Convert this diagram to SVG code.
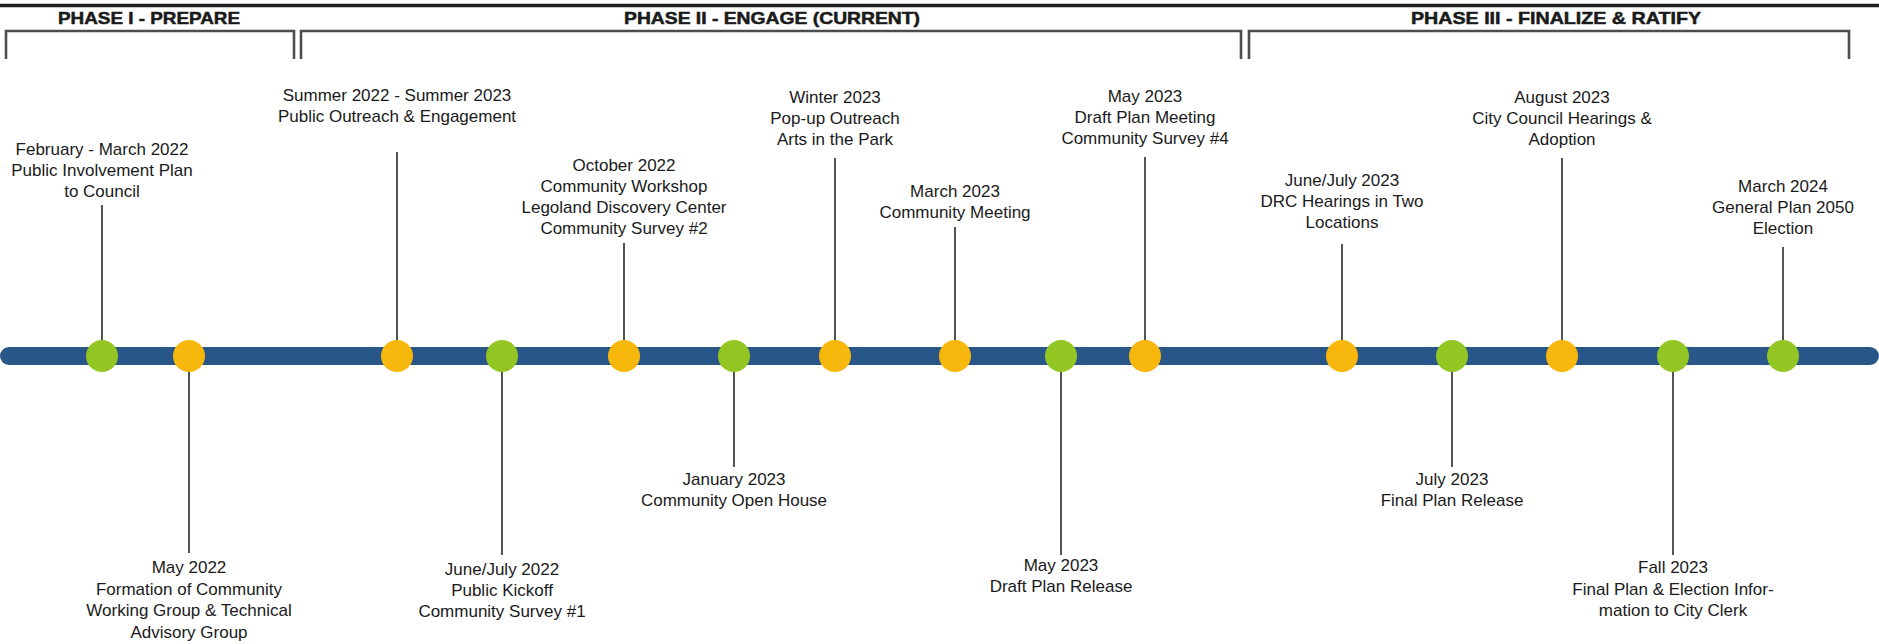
<svg xmlns="http://www.w3.org/2000/svg" width="1879" height="644" viewBox="0 0 1879 644">
<style>
.lbl{font-family:"Liberation Sans",Arial,sans-serif;font-size:17px;fill:#1a1a1a;text-anchor:middle}
.ph{font-family:"Liberation Sans",Arial,sans-serif;font-size:16.5px;font-weight:bold;fill:#1a1a1a;stroke:#1a1a1a;stroke-width:0.5}
.br{fill:none;stroke:#4d4d4d;stroke-width:2.6}
.stem{stroke:#2a2a2a;stroke-width:1.6}
.g{fill:#94c623}
.o{fill:#f8b70c}
</style>
<rect width="1879" height="644" fill="#ffffff"/>
<line x1="0" y1="5.5" x2="1879" y2="5.5" stroke="#1f1f1f" stroke-width="3.5"/>
<g id="phase1">
<text class="ph" x="58" y="24" textLength="182" lengthAdjust="spacingAndGlyphs">PHASE I - PREPARE</text>
<path class="br" d="M6,59 V31 H294 V59"/>
</g>
<g id="phase2">
<text class="ph" x="624" y="24" textLength="296" lengthAdjust="spacingAndGlyphs">PHASE II - ENGAGE (CURRENT)</text>
<path class="br" d="M301,59 V31 H1241 V59"/>
</g>
<g id="phase3">
<text class="ph" x="1411" y="24" textLength="290" lengthAdjust="spacingAndGlyphs">PHASE III - FINALIZE &amp; RATIFY</text>
<path class="br" d="M1249,59 V31 H1849 V59"/>
</g>
<g id="connectors">
<line class="stem" x1="102" y1="205" x2="102" y2="356"/>
<line class="stem" x1="189" y1="356" x2="189" y2="553"/>
<line class="stem" x1="397" y1="152" x2="397" y2="356"/>
<line class="stem" x1="502" y1="356" x2="502" y2="555"/>
<line class="stem" x1="624" y1="243" x2="624" y2="356"/>
<line class="stem" x1="734" y1="356" x2="734" y2="467"/>
<line class="stem" x1="835" y1="158" x2="835" y2="356"/>
<line class="stem" x1="955" y1="227" x2="955" y2="356"/>
<line class="stem" x1="1061" y1="356" x2="1061" y2="555"/>
<line class="stem" x1="1145" y1="157" x2="1145" y2="356"/>
<line class="stem" x1="1342" y1="244" x2="1342" y2="356"/>
<line class="stem" x1="1452" y1="356" x2="1452" y2="467"/>
<line class="stem" x1="1562" y1="158" x2="1562" y2="356"/>
<line class="stem" x1="1673" y1="356" x2="1673" y2="555"/>
<line class="stem" x1="1783" y1="247" x2="1783" y2="356"/>
</g>
<g id="timeline">
<line x1="9" y1="356" x2="1870" y2="356" stroke="#295689" stroke-width="18" stroke-linecap="round"/>
</g>
<g id="n1"><circle class="g" cx="102" cy="356" r="16"/>
<text class="lbl" x="102" y="155">February - March 2022</text>
<text class="lbl" x="102" y="176">Public Involvement Plan</text>
<text class="lbl" x="102" y="197">to Council</text></g>
<g id="n2"><circle class="o" cx="189" cy="356" r="16"/>
<text class="lbl" x="189" y="573">May 2022</text>
<text class="lbl" x="189" y="594.5">Formation of Community</text>
<text class="lbl" x="189" y="616">Working Group &amp; Technical</text>
<text class="lbl" x="189" y="637.5">Advisory Group</text></g>
<g id="n3"><circle class="o" cx="397" cy="356" r="16"/>
<text class="lbl" x="397" y="101">Summer 2022 - Summer 2023</text>
<text class="lbl" x="397" y="122">Public Outreach &amp; Engagement</text></g>
<g id="n4"><circle class="g" cx="502" cy="356" r="16"/>
<text class="lbl" x="502" y="575">June/July 2022</text>
<text class="lbl" x="502" y="596">Public Kickoff</text>
<text class="lbl" x="502" y="617">Community Survey #1</text></g>
<g id="n5"><circle class="o" cx="624" cy="356" r="16"/>
<text class="lbl" x="624" y="171">October 2022</text>
<text class="lbl" x="624" y="192">Community Workshop</text>
<text class="lbl" x="624" y="213">Legoland Discovery Center</text>
<text class="lbl" x="624" y="234">Community Survey #2</text></g>
<g id="n6"><circle class="g" cx="734" cy="356" r="16"/>
<text class="lbl" x="734" y="485">January 2023</text>
<text class="lbl" x="734" y="506">Community Open House</text></g>
<g id="n7"><circle class="o" cx="835" cy="356" r="16"/>
<text class="lbl" x="835" y="103">Winter 2023</text>
<text class="lbl" x="835" y="124">Pop-up Outreach</text>
<text class="lbl" x="835" y="145">Arts in the Park</text></g>
<g id="n8"><circle class="o" cx="955" cy="356" r="16"/>
<text class="lbl" x="955" y="197">March 2023</text>
<text class="lbl" x="955" y="218">Community Meeting</text></g>
<g id="n9"><circle class="g" cx="1061" cy="356" r="16"/>
<text class="lbl" x="1061" y="571">May 2023</text>
<text class="lbl" x="1061" y="592">Draft Plan Release</text></g>
<g id="n10"><circle class="o" cx="1145" cy="356" r="16"/>
<text class="lbl" x="1145" y="102">May 2023</text>
<text class="lbl" x="1145" y="123">Draft Plan Meeting</text>
<text class="lbl" x="1145" y="144">Community Survey #4</text></g>
<g id="n11"><circle class="o" cx="1342" cy="356" r="16"/>
<text class="lbl" x="1342" y="186">June/July 2023</text>
<text class="lbl" x="1342" y="207">DRC Hearings in Two</text>
<text class="lbl" x="1342" y="228">Locations</text></g>
<g id="n12"><circle class="g" cx="1452" cy="356" r="16"/>
<text class="lbl" x="1452" y="485">July 2023</text>
<text class="lbl" x="1452" y="506">Final Plan Release</text></g>
<g id="n13"><circle class="o" cx="1562" cy="356" r="16"/>
<text class="lbl" x="1562" y="103">August 2023</text>
<text class="lbl" x="1562" y="124">City Council Hearings &amp;</text>
<text class="lbl" x="1562" y="145">Adoption</text></g>
<g id="n14"><circle class="g" cx="1673" cy="356" r="16"/>
<text class="lbl" x="1673" y="573">Fall 2023</text>
<text class="lbl" x="1673" y="595">Final Plan &amp; Election Infor-</text>
<text class="lbl" x="1673" y="616">mation to City Clerk</text></g>
<g id="n15"><circle class="g" cx="1783" cy="356" r="16"/>
<text class="lbl" x="1783" y="192">March 2024</text>
<text class="lbl" x="1783" y="213">General Plan 2050</text>
<text class="lbl" x="1783" y="234">Election</text></g>
</svg>
